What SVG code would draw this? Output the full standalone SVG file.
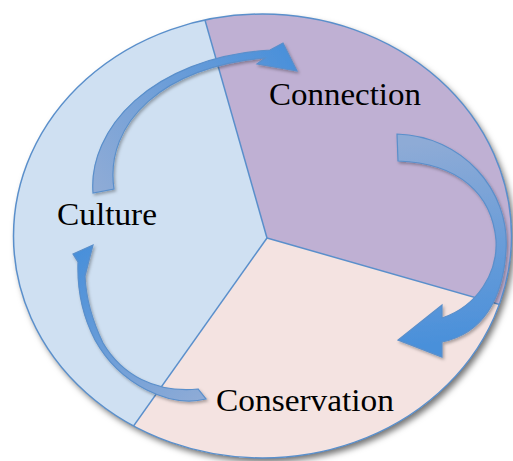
<svg xmlns="http://www.w3.org/2000/svg" width="513" height="461" viewBox="0 0 513 461">
  <defs>
    <style>
      .lbl { font-family: "Liberation Serif", "DejaVu Serif", serif; font-size: 32px; fill: #000; }
      .div { stroke: #5a8fcb; stroke-width: 1.5; fill: none; }
      .arrow { stroke: #5a8fcb; stroke-width: 1.2; stroke-linejoin: miter; filter: url(#ashadow); }
    </style>
    <clipPath id="clip">
      <ellipse cx="262.5" cy="236" rx="249" ry="222"/>
    </clipPath>
    <filter id="shadow" x="-10%" y="-10%" width="125%" height="125%">
      <feDropShadow dx="3" dy="4" stdDeviation="3" flood-color="#000" flood-opacity="0.55"/>
    </filter>
    <filter id="ashadow" x="-20%" y="-20%" width="140%" height="140%">
      <feDropShadow dx="1.5" dy="2" stdDeviation="1.5" flood-color="#000" flood-opacity="0.3"/>
    </filter>
    <linearGradient id="g1" gradientUnits="userSpaceOnUse" x1="100" y1="190" x2="295" y2="60">
      <stop offset="0" stop-color="#8eabd6"/>
      <stop offset="1" stop-color="#4a90da"/>
    </linearGradient>
    <linearGradient id="g2" gradientUnits="userSpaceOnUse" x1="400" y1="145" x2="420" y2="345">
      <stop offset="0" stop-color="#8eabd6"/>
      <stop offset="1" stop-color="#4a90da"/>
    </linearGradient>
    <linearGradient id="g3" gradientUnits="userSpaceOnUse" x1="205" y1="395" x2="85" y2="250">
      <stop offset="0" stop-color="#8eabd6"/>
      <stop offset="1" stop-color="#4a90da"/>
    </linearGradient>
  </defs>

  <ellipse cx="262.5" cy="236" rx="249" ry="222" fill="#cfe0f2" filter="url(#shadow)"/>

  <g clip-path="url(#clip)">
    <g id="culture">
      <polygon points="267,238 193,-22 -10,-22 -10,470 108,462" fill="#cfe0f2"/>
    </g>
    <g id="connection">
      <polygon points="267,238 193,-22 560,-22 560,321.7 554,320" fill="#bfb0d3"/>
    </g>
    <g id="conservation">
      <polygon points="267,238 554,320 560,321.7 560,470 108,462" fill="#f4e3e1"/>
    </g>
    <line class="div" x1="267" y1="238" x2="193" y2="-22"/>
    <line class="div" x1="267" y1="238" x2="554" y2="320"/>
    <line class="div" x1="267" y1="238" x2="108" y2="462"/>
  </g>
  <ellipse cx="262.5" cy="236" rx="249" ry="222" fill="none" stroke="#5a8fcb" stroke-width="1.5"/>

  <g id="connectors">
    <path class="arrow" fill="url(#g1)" d="M 93 193 C 88 130, 150 58, 270 50 L 283 43 L 297 71 L 257 64 L 265 58 C 165 66, 104 122, 114 189 Z"/>
    <path class="arrow" fill="url(#g2)" d="M 397 134 C 462 136, 510 190, 506 250 C 503 300, 482 334, 442 342 L 442 357 L 398 340 L 442 305 L 442 318 C 478 306, 498 272, 496 240 C 492 195, 460 163, 398 161 Z"/>
    <path class="arrow" fill="url(#g3)" d="M 206 399 C 170 408, 120 385, 95 340 C 82 315, 77 290, 78 262 L 73 254 L 93 245 L 85 276 C 86 300, 92 320, 103 343 C 122 375, 155 393, 198 389 Z"/>
  </g>

  <text class="lbl" x="57" y="225" textLength="100" lengthAdjust="spacingAndGlyphs">Culture</text>
  <text class="lbl" x="269" y="105" textLength="152" lengthAdjust="spacingAndGlyphs">Connection</text>
  <text class="lbl" x="216" y="411" textLength="178" lengthAdjust="spacingAndGlyphs">Conservation</text>
</svg>
